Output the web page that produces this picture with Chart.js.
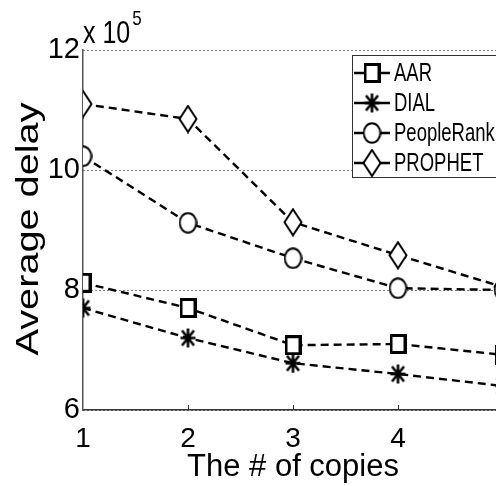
<!DOCTYPE html>
<html>
<head>
<meta charset="utf-8">
<script src="https://cdn.jsdelivr.net/npm/chart.js@4/dist/chart.umd.min.js"></script>
<style>
  html, body { margin: 0; padding: 0; background: #fff; overflow: hidden; }
  #wrap { width: 520px; height: 486px; }
</style>
</head>
<body>
<div id="wrap"><canvas id="delayChart" width="520" height="486"></canvas></div>
<script>
// x = number of copies, y = average delay (x 10^5)
const copies = [1, 2, 3, 4, 5];
const aar = [8.12, 7.70, 7.08, 7.10, 6.92];
const dial = [7.70, 7.20, 6.78, 6.60, 6.40];
const peopleRank = [10.23, 9.12, 8.53, 8.03, 8.00];
const prophet = [11.10, 10.85, 9.13, 8.58, 8.05];
const yTicks = [6, 8, 10, 12];
const xLabels = ['1', '2', '3', '4', '']; // the 5 falls off the cropped figure

const FONT = "'Liberation Sans', Arial, sans-serif";

// marker images (slightly taller than wide, like the original figure)
function markerCanvas(w, h, draw) {
    const c = document.createElement('canvas');
    c.width = w; c.height = h;
    const g = c.getContext('2d');
    g.strokeStyle = '#000';
    g.fillStyle = '#fff';
    draw(g, w, h);
    return c;
}

const squareMark = markerCanvas(17, 20, (g, w, h) => {
    g.lineWidth = 3;
    g.fillRect(1.5, 1.5, w - 3, h - 3);
    g.strokeRect(1.5, 1.5, w - 3, h - 3);
});

const starMark = markerCanvas(17, 21, (g, w, h) => {
    g.lineWidth = 2.6;
    g.beginPath();
    g.moveTo(w / 2, 1); g.lineTo(w / 2, h - 1);
    g.moveTo(1, h / 2); g.lineTo(w - 1, h / 2);
    g.moveTo(2.5, 3); g.lineTo(w - 2.5, h - 3);
    g.moveTo(w - 2.5, 3); g.lineTo(2.5, h - 3);
    g.stroke();
});

const circleMark = markerCanvas(19, 22, (g, w, h) => {
    g.lineWidth = 2;
    g.beginPath();
    g.ellipse(w / 2, h / 2, w / 2 - 1.2, h / 2 - 1.2, 0, 0, Math.PI * 2);
    g.fill(); g.stroke();
});

const diamondMark = markerCanvas(20, 29, (g, w, h) => {
    g.lineWidth = 2;
    g.beginPath();
    g.moveTo(w / 2, 1.5); g.lineTo(w - 1.5, h / 2);
    g.lineTo(w / 2, h - 1.5); g.lineTo(1.5, h / 2);
    g.closePath();
    g.fill(); g.stroke();
});

function series(label, values, mark) {
    return {
        label: label,
        data: copies.map((c, i) => ({ x: c, y: values[i] })),
        borderColor: '#000',
        borderWidth: 2.4,
        borderDash: [8, 5],
        pointStyle: mark,
        pointRadius: 10,
        pointHoverRadius: 10,
        fill: false,
        tension: 0
    };
}

const datasets = [
    series('AAR', aar, squareMark),
    series('DIAL', dial, starMark),
    series('PeopleRank', peopleRank, circleMark),
    series('PROPHET', prophet, diamondMark)
];

// text with a stretch factor (the original figure was scaled unevenly)
function stretchedText(ctx, text, x, y, size, sx, sy, rot) {
    ctx.save();
    ctx.translate(x, y);
    if (rot) ctx.rotate(rot);
    ctx.scale(sx, sy);
    ctx.font = size + 'px ' + FONT;
    ctx.fillText(text, 0, 0);
    ctx.restore();
}

// y title, exponent label, inward x ticks and the boxed legend
const extras = {
    id: 'extras',
    afterDraw(chart) {
        const ctx = chart.ctx;
        const xs = chart.scales.x;
        const area = chart.chartArea;
        ctx.save();

        // small inward tick marks on the x axis
        ctx.strokeStyle = '#333';
        ctx.lineWidth = 1;
        copies.forEach(c => {
            if (c === 1) return;
            const px = Math.round(xs.getPixelForValue(c)) + 0.5;
            ctx.beginPath();
            ctx.moveTo(px, area.bottom);
            ctx.lineTo(px, area.bottom - 5);
            ctx.stroke();
        });

        ctx.fillStyle = '#000';

        // y axis title
        ctx.textAlign = 'center';
        ctx.textBaseline = 'middle';
        stretchedText(ctx, 'Average delay', 29, 229, 31, 1.28, 1, -Math.PI / 2);

        // x 10^5
        ctx.textBaseline = 'alphabetic';
        ctx.textAlign = 'left';
        stretchedText(ctx, 'x 10', area.left, 43, 25, 1, 1.22);
        ctx.font = '25px ' + FONT;
        const w = ctx.measureText('x 10').width;
        stretchedText(ctx, '5', area.left + w + 2, 25, 17, 1, 1.2);

        // legend box
        const bx = 352, by = 55, bw = 160, bh = 122;
        ctx.fillStyle = '#fff';
        ctx.fillRect(bx, by, bw, bh);
        ctx.strokeStyle = '#333';
        ctx.lineWidth = 1;
        ctx.strokeRect(bx + 0.5, by + 0.5, bw, bh);

        ctx.textBaseline = 'middle';
        datasets.forEach((ds, i) => {
            const cy = by + 18 + i * 30;
            ctx.strokeStyle = '#000';
            ctx.lineWidth = 2.4;
            ctx.setLineDash([]);
            ctx.beginPath();
            ctx.moveTo(bx + 2, cy);
            ctx.lineTo(bx + 38, cy);
            ctx.stroke();
            const img = ds.pointStyle;
            ctx.drawImage(img, bx + 20 - img.width / 2, cy - img.height / 2);
            ctx.fillStyle = '#000';
            stretchedText(ctx, ds.label, bx + 42, cy + 1, 18.5, 1, 1.35);
        });
        ctx.restore();
    }
};

new Chart(document.getElementById('delayChart').getContext('2d'), {
    type: 'line',
    data: { datasets: datasets },
    plugins: [extras],
    options: {
        responsive: false,
        animation: false,
        events: [],
        layout: { padding: { top: 50, right: 17, left: 0, bottom: 0 } },
        plugins: {
            legend: { display: false },
            tooltip: { enabled: false }
        },
        scales: {
            x: {
                type: 'linear',
                min: 1,
                max: 5,
                afterFit: s => { s.height = 76; },
                afterBuildTicks: s => { s.ticks = copies.map(v => ({ value: v })); },
                grid: { display: false, drawTicks: false },
                border: { display: true, color: '#333', width: 1.5 },
                ticks: {
                    color: '#000',
                    padding: 12,
                    font: { family: FONT, size: 28 },
                    callback: (v, i) => xLabels[i]
                },
                title: {
                    display: true,
                    text: 'The # of copies',
                    color: '#000',
                    padding: { top: 0, bottom: 0 },
                    font: { family: FONT, size: 31 }
                }
            },
            y: {
                type: 'linear',
                min: 6,
                max: 12,
                afterFit: s => { s.width = 83; },
                afterBuildTicks: s => { s.ticks = yTicks.map(v => ({ value: v })); },
                grid: { color: '#000', lineWidth: 1, drawTicks: false },
                border: { display: true, color: '#555', width: 1.5, dash: [1, 3] },
                ticks: {
                    color: '#000',
                    padding: 3,
                    font: { family: FONT, size: 29 }
                },
                title: { display: false }
            }
        }
    }
});
</script>
</body>
</html>
